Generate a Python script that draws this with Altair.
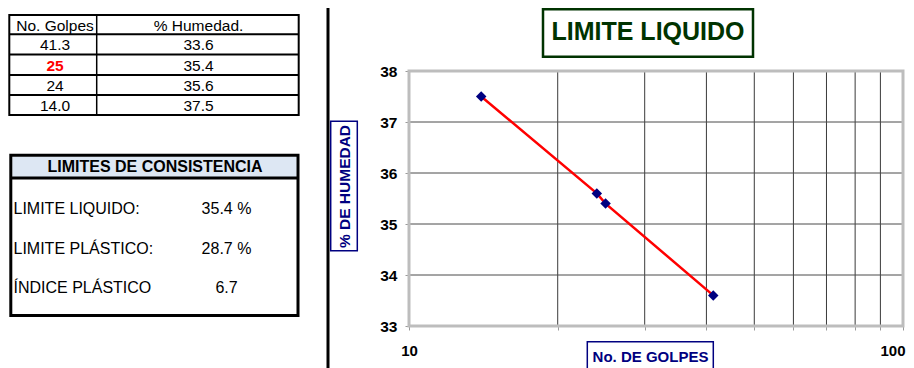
import altair as alt
import pandas as pd

# ---------------- data ----------------
golpes = [41.3, 25, 24, 14.0]
golpes_txt = ["41.3", "25", "24", "14.0"]
humedad = [33.6, 35.4, 35.6, 37.5]
humedad_txt = ["33.6", "35.4", "35.6", "37.5"]
col_headers = ["No. Golpes", "% Humedad."]
limit_names = ["LIMITE LIQUIDO:", "LIMITE PLÁSTICO:", "ÍNDICE PLÁSTICO"]
limit_values = ["35.4 %", "28.7 %", "6.7"]
box_title = "LIMITES DE CONSISTENCIA"
chart_title = "LIMITE LIQUIDO"
x_title = "No. DE GOLPES"
y_title = "% DE HUMEDAD"
x_ticks = [10, 20, 30, 40, 50, 60, 70, 80, 90, 100]
x_grid = [20, 30, 40, 50, 60, 70, 80, 90]
y_ticks = [33, 34, 35, 36, 37, 38]
y_grid = [34, 35, 36, 37]

FONT = "Liberation Sans"
W, H = 494, 255
OX, OY = 409, 71  # page position of the plot area origin


def px(x):
    return x - OX


def py(y):
    return y - OY


one = pd.DataFrame({"k": [0]})


def box(x1, y1, x2, y2, stroke, sw, fill="white", fop=0.0):
    return alt.Chart(one).mark_rect(
        fill=fill, fillOpacity=fop, stroke=stroke, strokeWidth=sw
    ).encode(
        x=alt.value(px(x1)), x2=alt.value(px(x2)),
        y=alt.value(py(y1)), y2=alt.value(py(y2)),
    )


def hline(x1, x2, y, sw=2, color="black"):
    return alt.Chart(one).mark_rule(color=color, strokeWidth=sw).encode(
        x=alt.value(px(x1)), x2=alt.value(px(x2)), y=alt.value(py(y))
    )


def vline(x, y1, y2, sw=2, color="black"):
    return alt.Chart(one).mark_rule(color=color, strokeWidth=sw).encode(
        x=alt.value(px(x)), y=alt.value(py(y1)), y2=alt.value(py(y2))
    )


def label(txt, x, y, size, weight="normal", color="black", align="center", angle=0):
    mk = dict(font=FONT, fontSize=size, fontWeight=weight, color=color,
              align=align, baseline="middle")
    if angle:
        mk["angle"] = angle
    return alt.Chart(pd.DataFrame({"t": [txt]})).mark_text(**mk).encode(
        text="t:N", x=alt.value(px(x)), y=alt.value(py(y))
    )


xs = alt.Scale(type="log", domain=[10, 100])
ys = alt.Scale(domain=[33, 38])

x_axis = alt.Axis(
    values=x_ticks, grid=False, domain=False, ticks=True, tickColor="#9a9a9a",
    tickSize=4, tickWidth=1, format="d",
    labelExpr="datum.value == 10 || datum.value == 100 ? datum.label : ''",
    labelAlign={"condition": {"test": "datum.value == 100", "value": "right"}, "value": "center"},
    labelOffset={"condition": {"test": "datum.value == 100", "value": 2}, "value": 0},
    labelFont=FONT, labelFontSize=15, labelFontWeight="bold", labelColor="black",
    labelPadding=13, labelFlush=False, labelOverlap=False, title=None,
)
y_axis = alt.Axis(
    values=y_ticks, grid=False, domain=False, ticks=True, tickColor="#9a9a9a",
    tickSize=4, tickWidth=1, format="d",
    labelFont=FONT, labelFontSize=15.5, labelFontWeight="bold", labelColor="black",
    labelPadding=8, title=None,
)

df = pd.DataFrame({"golpes": golpes, "humedad": humedad})

layers = []

# outer chart frame (its top edge lies above the drawable page area)
layers.append(box(328, 1.7, 930, 390, "black", 3))

# grid
layers.append(
    alt.Chart(pd.DataFrame({"g": x_grid})).mark_rule(color="#3a3a3a", strokeWidth=1).encode(
        x=alt.X("g:Q", scale=xs, axis=x_axis)
    )
)
layers.append(
    alt.Chart(pd.DataFrame({"g": y_grid})).mark_rule(color="#4a4a4a", strokeWidth=1).encode(
        y=alt.Y("g:Q", scale=ys, axis=y_axis)
    )
)
# plot area border
layers.append(box(OX, OY, OX + W, OY + H, "#bdbdbd", 3))

base = alt.Chart(df).encode(
    x=alt.X("golpes:Q", scale=xs, axis=x_axis),
    y=alt.Y("humedad:Q", scale=ys, axis=y_axis),
)
layers.append(base.mark_line(color="#ff0000", strokeWidth=2.5))
layers.append(base.mark_point(shape="diamond", filled=True, color="#000080", size=110, opacity=1))

# chart title box
layers.append(box(543, 9.2, 753, 56.7, "#003300", 2.5, fop=1.0))
layers.append(label(chart_title, 648, 32.2, 25, "bold", "#003300"))

# y title box
layers.append(box(330.7, 121.3, 357.3, 250.7, "#000080", 1.5, fop=1.0))
layers.append(label(y_title, 344.5, 186.5, 15.5, "bold", "#000080", angle=270))

# x title box
layers.append(box(587.3, 341.7, 713.3, 380, "#000080", 1.5, fop=1.0))
layers.append(label(x_title, 650.5, 357, 15, "bold", "#000080"))

# ---------- table 1 ----------
t_left, t_right, t_top, t_bot = 9.3, 298.7, 15, 115
row_lines = [34.3, 54.5, 75, 95]
row_y = [25.5, 45.2, 65.5, 85.8, 105.8]
col_div = 96.7
col_x = [55, 198.5]
layers.append(box(t_left, t_top, t_right, t_bot, "black", 2))
for yl in row_lines:
    layers.append(hline(t_left, t_right, yl, 2))
layers.append(vline(col_div, t_top, t_bot, 1.5))
layers.append(label(col_headers[0], col_x[0], row_y[0], 15.5))
layers.append(label(col_headers[1], col_x[1], row_y[0], 15.5))
for i in range(len(golpes)):
    is_red = golpes_txt[i] == "25"
    layers.append(label(golpes_txt[i], col_x[0], row_y[i + 1], 15.5,
                        "bold" if is_red else "normal",
                        "#ff0000" if is_red else "black"))
    layers.append(label(humedad_txt[i], col_x[1], row_y[i + 1], 15.5))

# ---------- table 2 ----------
b_left, b_right, b_top, b_bot = 10.8, 298, 155.3, 315.5
layers.append(box(b_left + 1.5, b_top + 1.5, b_right - 1.5, 177.5, "#dde7f3", 0.1, fill="#dde7f3", fop=1.0))
layers.append(box(b_left, b_top, b_right, b_bot, "black", 3))
layers.append(hline(b_left, b_right, 178, 3))
layers.append(label(box_title, 155, 167, 16, "bold"))
lim_y = [208.5, 248.5, 288]
for i in range(len(limit_names)):
    layers.append(label(limit_names[i], 13.5, lim_y[i], 16, align="left"))
    layers.append(label(limit_values[i], 226.5, lim_y[i], 16))

# svg spans page x 8..906 and y 8..368
chart = alt.layer(*layers).properties(
    width=W, height=H,
    autosize=alt.AutoSizeParams(type="none"),
    padding={"left": OX - 8, "top": OY - 8, "right": 906 - (OX + W), "bottom": 368 - (OY + H)},
    background="white",
).configure_view(strokeWidth=0)

chart.save("out.html", embed_options={"renderer": "svg", "actions": False})
